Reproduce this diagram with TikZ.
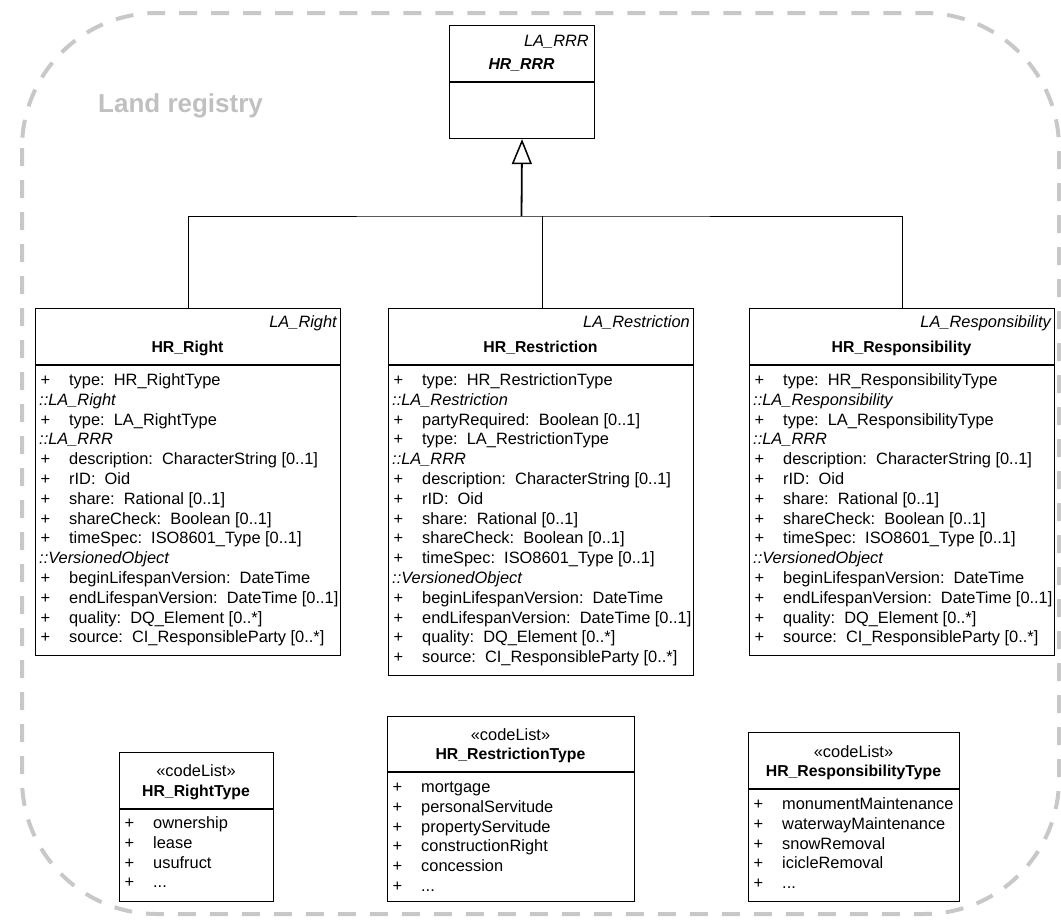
\documentclass[tikz,border=0pt]{standalone}
\usepackage{fontspec}
\setmainfont{Liberation Sans}
\usetikzlibrary{arrows.meta}
\definecolor{bordergray}{RGB}{200,200,200}
\definecolor{labelgray}{RGB}{192,192,192}
\newcommand{\pr}[1]{\makebox[30pt][l]{\hspace{1.5pt}+}#1}
\newcommand{\ir}[1]{\textit{#1}}
\newcommand{\moreitems}{...}
\frenchspacing
\begin{document}
\begin{tikzpicture}[x=1pt,y=-1pt,
  font=\fontsize{16.4}{19.8}\selectfont,
  cls/.style={draw, line width=1.1pt, inner sep=0pt, anchor=north west, fill=white},
  divline/.style={line width=1.1pt},
  row/.style={anchor=base west, inner sep=0pt},
  stereo/.style={anchor=base east, inner sep=0pt, font=\fontsize{16.4}{19.8}\selectfont\itshape},
  cname/.style={anchor=base, inner sep=0pt, font=\fontsize{15.8}{19}\selectfont\bfseries},
  cl/.style={anchor=base, inner sep=0pt},
  conn/.style={line width=1pt},
  border/.style={draw=bordergray, line width=4pt, dash pattern=on 18pt off 14pt, rounded corners=135pt}
]
\useasboundingbox (0,0) rectangle (1061,921);
% package frame
\draw[border] (22,13) rectangle (1059,914);
\node[anchor=base west, inner sep=0pt, text=labelgray, font=\fontsize{26}{30}\selectfont\bfseries] (pkglabel) at (98,112) {Land registry};

% abstract parent
\node[cls, minimum width=145pt, minimum height=113pt] (rrr) at (449,25) {};
\draw[divline] (rrr.west |- 0,82) -- (rrr.east |- 0,82);
\node[stereo] (rrr-st) at (589,46.5) {LA\_RRR};
\node[cname, font=\fontsize{15.8}{19}\selectfont\bfseries\itshape] (rrr-name) at (521.5,69.5) {HR\_RRR};

% HR_Right
\node[cls, minimum width=305pt, minimum height=347pt] (right) at (35,308) {};
\draw[divline] (right.west |- 0,365) -- (right.east |- 0,365);
\node[stereo] (right-st) at (337,327.5) {LA\_Right};
\node[cname] (right-name) at (187.5,352.5) {HR\_Right};
\foreach [count=\i] \t in {
  {\pr{type:~~HR\_RightType}},
  {\ir{::LA\_Right}},
  {\pr{type:~~LA\_RightType}},
  {\ir{::LA\_RRR}},
  {\pr{description:~~CharacterString [0..1]}},
  {\pr{rID:~~Oid}},
  {\pr{share:~~Rational [0..1]}},
  {\pr{shareCheck:~~Boolean [0..1]}},
  {\pr{timeSpec:~~ISO8601\_Type [0..1]}},
  {\ir{::VersionedObject}},
  {\pr{beginLifespanVersion:~~DateTime}},
  {\pr{endLifespanVersion:~~DateTime [0..1]}},
  {\pr{quality:~~DQ\_Element [0..*]}},
  {\pr{source:~~CI\_ResponsibleParty [0..*]}}}
  \node[row] (right-r\i) at ({39},{385.5+(\i-1)*19.8}) {\t};

% HR_Restriction
\node[cls, minimum width=305pt, minimum height=367pt] (restr) at (388,308) {};
\draw[divline] (restr.west |- 0,365) -- (restr.east |- 0,365);
\node[stereo] (restr-st) at (690,327.5) {LA\_Restriction};
\node[cname] (restr-name) at (540.5,352.5) {HR\_Restriction};
\foreach [count=\i] \t in {
  {\pr{type:~~HR\_RestrictionType}},
  {\ir{::LA\_Restriction}},
  {\pr{partyRequired:~~Boolean [0..1]}},
  {\pr{type:~~LA\_RestrictionType}},
  {\ir{::LA\_RRR}},
  {\pr{description:~~CharacterString [0..1]}},
  {\pr{rID:~~Oid}},
  {\pr{share:~~Rational [0..1]}},
  {\pr{shareCheck:~~Boolean [0..1]}},
  {\pr{timeSpec:~~ISO8601\_Type [0..1]}},
  {\ir{::VersionedObject}},
  {\pr{beginLifespanVersion:~~DateTime}},
  {\pr{endLifespanVersion:~~DateTime [0..1]}},
  {\pr{quality:~~DQ\_Element [0..*]}},
  {\pr{source:~~CI\_ResponsibleParty [0..*]}}}
  \node[row] (restr-r\i) at ({392},{385.5+(\i-1)*19.8}) {\t};

% HR_Responsibility
\node[cls, minimum width=305pt, minimum height=347pt] (resp) at (749,308) {};
\draw[divline] (resp.west |- 0,365) -- (resp.east |- 0,365);
\node[stereo] (resp-st) at (1051,327.5) {LA\_Responsibility};
\node[cname] (resp-name) at (901.5,352.5) {HR\_Responsibility};
\foreach [count=\i] \t in {
  {\pr{type:~~HR\_ResponsibilityType}},
  {\ir{::LA\_Responsibility}},
  {\pr{type:~~LA\_ResponsibilityType}},
  {\ir{::LA\_RRR}},
  {\pr{description:~~CharacterString [0..1]}},
  {\pr{rID:~~Oid}},
  {\pr{share:~~Rational [0..1]}},
  {\pr{shareCheck:~~Boolean [0..1]}},
  {\pr{timeSpec:~~ISO8601\_Type [0..1]}},
  {\ir{::VersionedObject}},
  {\pr{beginLifespanVersion:~~DateTime}},
  {\pr{endLifespanVersion:~~DateTime [0..1]}},
  {\pr{quality:~~DQ\_Element [0..*]}},
  {\pr{source:~~CI\_ResponsibleParty [0..*]}}}
  \node[row] (resp-r\i) at ({753},{385.5+(\i-1)*19.8}) {\t};

% generalization connectors
\coordinate (bus) at (521.5,216);
\draw[conn] (right.north) |- (bus) -| (resp.north);
\draw[conn] ([xshift=1.5pt]restr.north) -- ([xshift=1.5pt]restr.north |- bus);
\draw[line width=1.8pt, -{Triangle[open, length=25pt, width=20pt, line width=1.5pt]}] (bus) -- (rrr.south);

% code lists
\node[cls, minimum width=154pt, minimum height=149pt] (rtype) at (119,752) {};
\draw[divline] (rtype.west |- 0,809) -- (rtype.east |- 0,809);
\node[cl] (rtype-st) at (196,776.5) {«codeList»};
\node[cname] (rtype-name) at (196,796.5) {HR\_RightType};
\foreach [count=\i] \t in {ownership, lease, usufruct, \moreitems}
  \node[row] (rtype-r\i) at ({123},{828.5+(\i-1)*19.8}) {\pr{\t}};

\node[cls, minimum width=247pt, minimum height=185pt] (stype) at (387,716) {};
\draw[divline] (stype.west |- 0,772) -- (stype.east |- 0,772);
\node[cl] (stype-st) at (510.5,740.5) {«codeList»};
\node[cname] (stype-name) at (510.5,759.5) {HR\_RestrictionType};
\foreach [count=\i] \t in {mortgage, personalServitude, propertyServitude, constructionRight, concession, \moreitems}
  \node[row] (stype-r\i) at ({391},{792.5+(\i-1)*19.8}) {\pr{\t}};

\node[cls, minimum width=211pt, minimum height=169pt] (ptype) at (748,732) {};
\draw[divline] (ptype.west |- 0,789) -- (ptype.east |- 0,789);
\node[cl] (ptype-st) at (853.5,757.5) {«codeList»};
\node[cname] (ptype-name) at (853.5,776.5) {HR\_ResponsibilityType};
\foreach [count=\i] \t in {monumentMaintenance, waterwayMaintenance, snowRemoval, icicleRemoval, \moreitems}
  \node[row] (ptype-r\i) at ({752},{809.5+(\i-1)*19.8}) {\pr{\t}};
\end{tikzpicture}
\end{document}
